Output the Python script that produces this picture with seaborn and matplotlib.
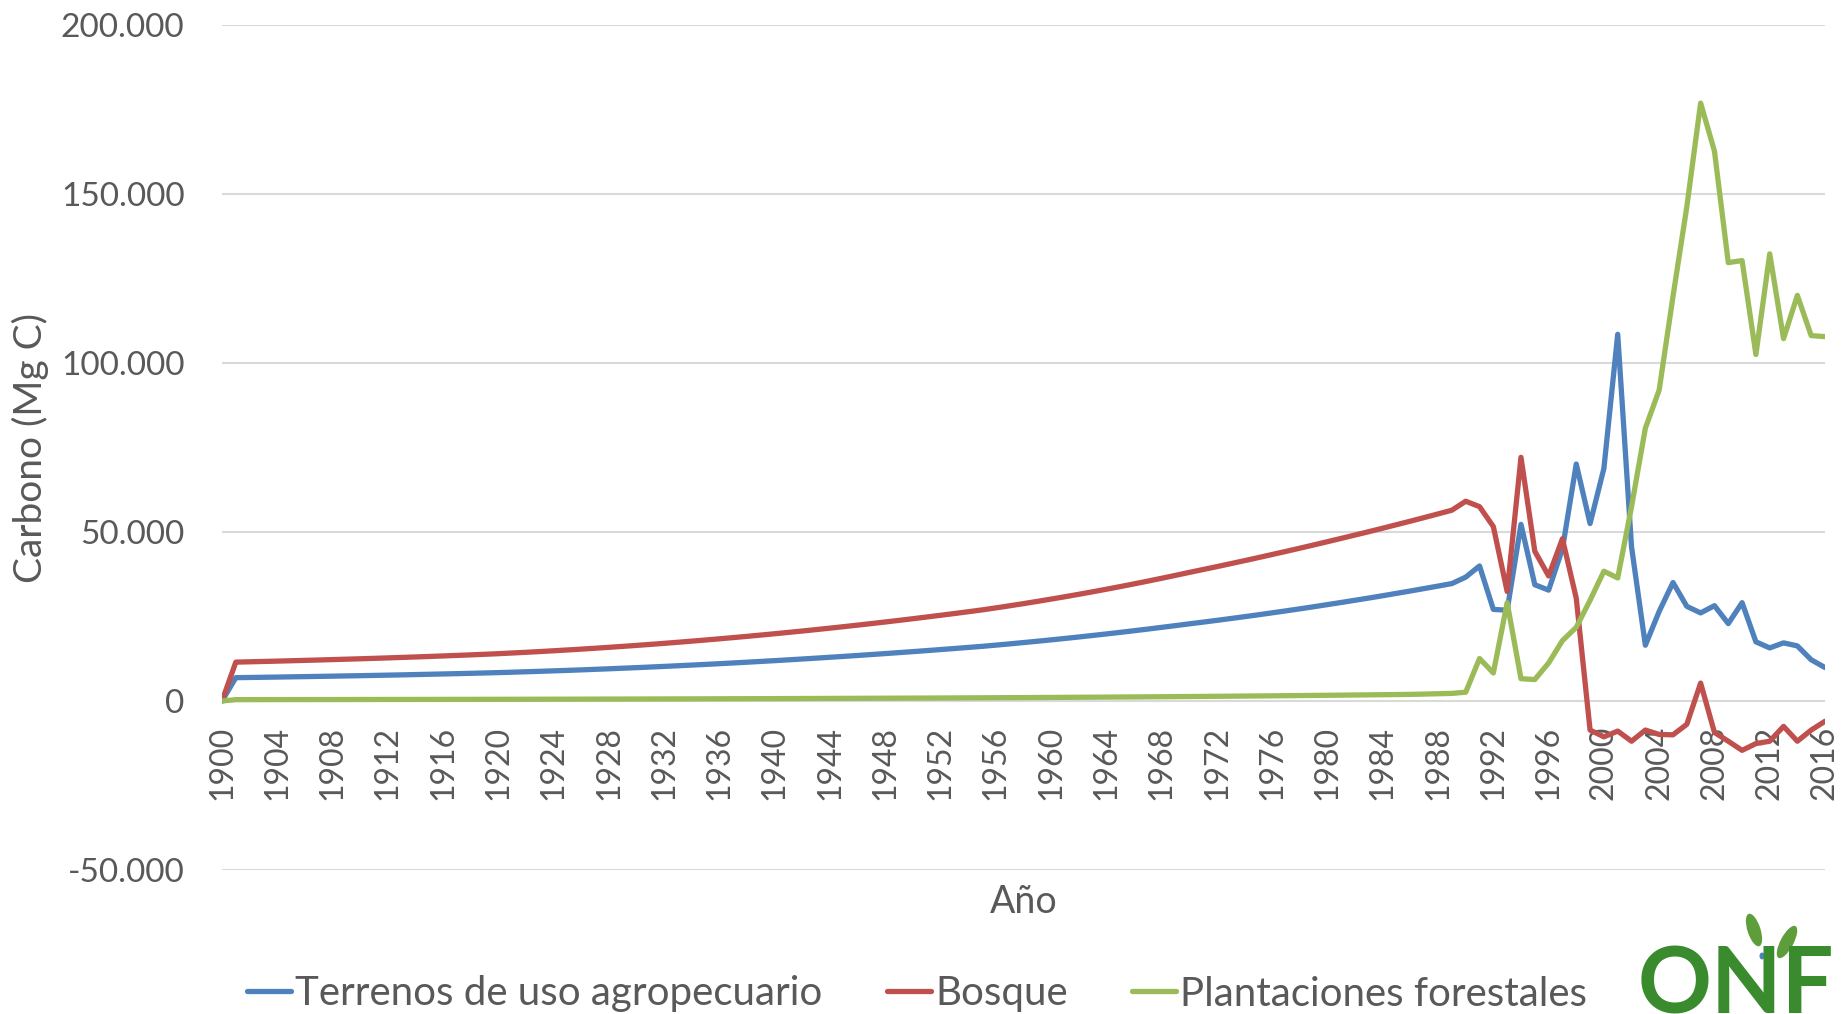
import numpy as np
import pandas as pd
import matplotlib
matplotlib.use("Agg")
import matplotlib.pyplot as plt
from matplotlib.ticker import FuncFormatter, FixedLocator
from matplotlib.patches import Ellipse
from matplotlib.transforms import IdentityTransform
import seaborn as sns

# Años de la serie
years = list(range(1900, 2017))

# Carbono (Mg C) por categoría de uso de la tierra
terrenos_agropecuarios = [
    0,
    6900, 6960, 7020, 7080, 7150, 7210, 7280, 7350, 7420, 7490,
    7570, 7650, 7730, 7820, 7910, 8000, 8090, 8190, 8290, 8400,
    8520, 8650, 8780, 8920, 9060, 9210, 9370, 9530, 9700, 9870,
    10050, 10240, 10430, 10630, 10830, 11040, 11260, 11480, 11710, 11940,
    12180, 12430, 12680, 12940, 13200, 13470, 13750, 14030, 14320, 14610,
    14910, 15220, 15530, 15850, 16170, 16530, 16900, 17290, 17680, 18090,
    18510, 18940, 19390, 19840, 20310, 20790, 21280, 21790, 22300, 22830,
    23340, 23860, 24400, 24950, 25510, 26090, 26670, 27270, 27890, 28520,
    29160, 29810, 30470, 31150, 31850, 32550, 33270, 34000, 34740,
    36650, 39950, 27100, 26860, 52260, 34400, 32800, 45000, 70100, 52500,
    68800, 108500, 45600, 16500, 26500, 35060, 28000, 26060, 28200, 22900,
    29100, 17500, 15700, 17200, 16300, 12200, 9900,
]

bosque = [
    0,
    11500, 11600, 11700, 11800, 11910, 12020, 12130, 12250, 12370, 12490,
    12620, 12750, 12890, 13030, 13180, 13330, 13490, 13650, 13820, 14000,
    14200, 14410, 14630, 14860, 15100, 15350, 15610, 15880, 16160, 16450,
    16750, 17060, 17380, 17710, 18050, 18400, 18760, 19130, 19510, 19900,
    20300, 20710, 21130, 21560, 22000, 22450, 22910, 23380, 23860, 24350,
    24850, 25360, 25880, 26410, 26950, 27550, 28170, 28810, 29470, 30150,
    30850, 31570, 32310, 33070, 33850, 34650, 35470, 36310, 37170, 38050,
    38900, 39760, 40640, 41530, 42430, 43350, 44270, 45210, 46170, 47140,
    48120, 49110, 50110, 51130, 52170, 53210, 54270, 55350, 56450,
    59100, 57500, 51600, 32400, 72100, 44300, 37000, 48000, 30400, -8600,
    -10600, -8900, -11900, -8600, -9900, -10000, -6900, 5300, -9300, -11900,
    -14600, -12600, -11900, -7500, -11900, -8600, -6000,
]

plantaciones_forestales = [
    0,
    400, 405, 410, 415, 420, 425, 430, 435, 440, 445,
    450, 455, 460, 466, 472, 478, 484, 490, 496, 502,
    510, 518, 526, 534, 542, 550, 560, 570, 580, 590,
    600, 610, 620, 632, 644, 656, 668, 680, 692, 705,
    720, 735, 750, 765, 780, 795, 810, 826, 842, 858,
    875, 892, 910, 930, 950, 970, 990, 1010, 1030, 1055,
    1080, 1105, 1130, 1155, 1180, 1205, 1235, 1265, 1295, 1325,
    1355, 1390, 1425, 1460, 1495, 1530, 1570, 1610, 1650, 1690,
    1730, 1775, 1820, 1865, 1910, 1960, 2050, 2150, 2250,
    2600, 12570, 8300, 29100, 6600, 6350, 11250, 17860, 21800, 29800,
    38400, 36400, 57500, 80700, 92000, 119700, 146200, 176900, 162700, 129700,
    130300, 102500, 132300, 107200, 120000, 108100, 107800,
]

series_names = ["Terrenos de uso agropecuario", "Bosque", "Plantaciones forestales"]
series_colors = ["#4F81BD", "#C0504D", "#9BBB59"]
x_ticks = list(range(1900, 2017, 4))
y_ticks = [-50000, 0, 50000, 100000, 150000, 200000]

df = pd.DataFrame({
    "Año": years * 3,
    "Carbono": terrenos_agropecuarios + bosque + plantaciones_forestales,
    "Serie": [series_names[0]] * len(years)
           + [series_names[1]] * len(years)
           + [series_names[2]] * len(years),
})

sns.set_theme(style="white")
plt.rcParams["font.family"] = ["Lato", "DejaVu Sans"]
text_color = "#595959"

fig = plt.figure(figsize=(18.41, 10.14), dpi=100)
ax = fig.add_axes([222 / 1841, 144 / 1014, (1825 - 222) / 1841, (989 - 144) / 1014])

# The category axis crosses the value axis at zero
ax.spines["bottom"].set_position(("data", 0))
ax.spines["bottom"].set_visible(False)
for side in ["top", "right", "left"]:
    ax.spines[side].set_visible(False)

sns.lineplot(
    data=df, x="Año", y="Carbono", hue="Serie", hue_order=series_names,
    palette=series_colors, linewidth=3.8, ax=ax, zorder=3,
)
for line in ax.get_lines():
    line.set_solid_capstyle("round")
    line.set_solid_joinstyle("round")

ax.set_xlim(1900, 2016)
ax.set_ylim(-50000, 200000)

ax.yaxis.set_major_locator(FixedLocator(y_ticks))
ax.yaxis.set_major_formatter(FuncFormatter(lambda v, p: f"{int(v):,}".replace(",", ".")))
ax.xaxis.set_major_locator(FixedLocator(x_ticks))
ax.xaxis.set_major_formatter(FuncFormatter(lambda v, p: f"{int(round(v))}"))

ax.grid(axis="y", color="#D9D9D9", linewidth=1.5, zorder=0)
ax.grid(axis="x", visible=False)

ax.tick_params(axis="y", length=0, pad=27, labelsize=24, labelcolor=text_color)
ax.tick_params(axis="x", length=0, pad=18, labelsize=23, labelcolor=text_color,
               labelrotation=90)

ax.set_xlabel("")
ax.set_ylabel("")
fig.text(1024 / 1841, 1 - 902 / 1014, "Año", ha="center", va="center",
         fontsize=27, color=text_color)
fig.text(30 / 1841, 1 - 448 / 1014, "Carbono (Mg C)", ha="center", va="center",
         rotation=90, fontsize=28, color=text_color)

handles, labels = ax.get_legend_handles_labels()
ax.get_legend().remove()
for h in handles:
    h.set_linewidth(3.8)
fig.legend(
    handles, labels, loc="center", bbox_to_anchor=(917 / 1841, 1 - 994 / 1014),
    ncol=3, frameon=False, fontsize=29, labelcolor=text_color,
    handlelength=1.1, handletextpad=0.1, columnspacing=1.6,
)

# Logotipo ONF
fig.text(1736 / 1841, 1 - 946 / 1014, "ONF", ha="center", va="top",
         fontsize=66, fontweight="bold", color="#3A8A2E")
fig.patches.append(Ellipse((1754, 1014 - 930), 13, 34, angle=18,
                           facecolor="#5E9E3A", edgecolor="none",
                           transform=IdentityTransform(), figure=fig))
fig.patches.append(Ellipse((1787, 1014 - 942), 13, 36, angle=-28,
                           facecolor="#5E9E3A", edgecolor="none",
                           transform=IdentityTransform(), figure=fig))
fig.patches.append(Ellipse((1762, 1014 - 956), 5, 7, angle=0,
                           facecolor="#4F81BD", edgecolor="none",
                           transform=IdentityTransform(), figure=fig))

fig.savefig("out.png", dpi=100, facecolor="white")
